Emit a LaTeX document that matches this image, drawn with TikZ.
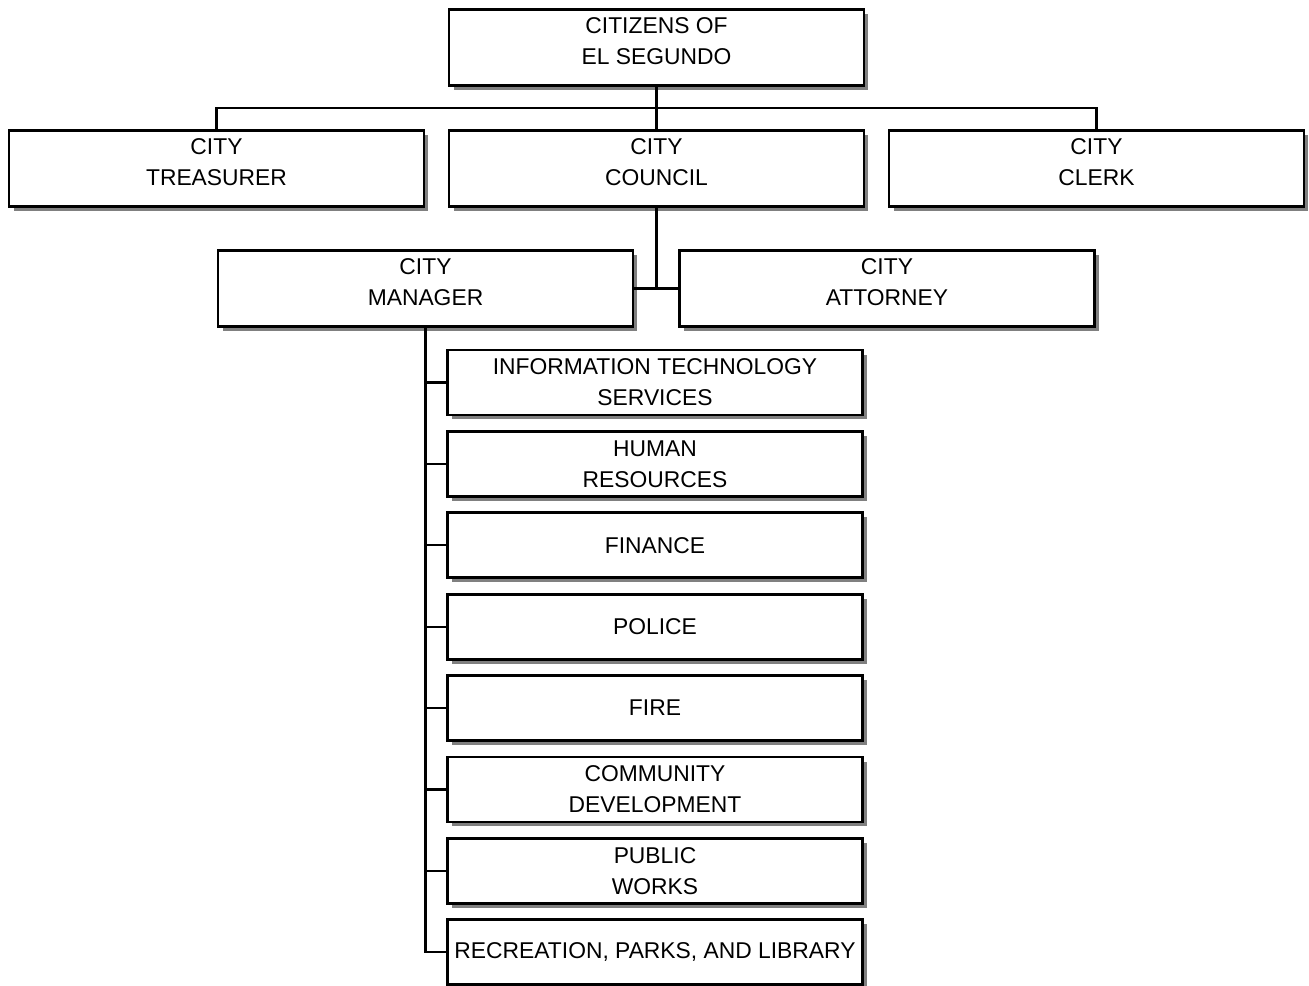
\documentclass[tikz,border=0pt]{standalone}
\usepackage{fontspec}
\setmainfont{Liberation Sans}
\usetikzlibrary{positioning,shadows,calc}

\tikzset{
  unit/.style={draw, fill=white, line width=1.5pt, align=center,
    font=\fontsize{13}{17.5}\selectfont,
    minimum width=8.3cm, minimum height=1.52cm, inner sep=2pt,
    drop shadow={shadow xshift=0.09cm, shadow yshift=-0.09cm, fill=black!50, opacity=1}},
  upper/.style={unit, text depth=7pt},
  dept/.style={unit, minimum height=1.3cm},
  link/.style={line width=1.3pt}
}

\begin{document}
\begin{tikzpicture}[x=0.02cm, y=-0.02cm]

\useasboundingbox (0,0) rectangle (1309,986);

% top row
\node[upper] (citizens) at (656.5,47.5) {CITIZENS OF\\EL SEGUNDO};
\node[upper] (treasurer) at (216.5,168.5) {CITY\\TREASURER};
\node[upper] (council) at (656.5,168.5) {CITY\\COUNCIL};
\node[upper] (clerk) at (1096.5,168.5) {CITY\\CLERK};

\node[upper] (manager) at (425.5,288.5) {CITY\\MANAGER};
\node[upper] (attorney) at (887,288.5) {CITY\\ATTORNEY};

% departments
\foreach \name/\txt [count=\i from 0] in {
  it/{INFORMATION TECHNOLOGY\\SERVICES},
  hr/{HUMAN\\RESOURCES},
  fin/FINANCE,
  pol/POLICE,
  fire/FIRE,
  cd/{COMMUNITY\\DEVELOPMENT},
  pw/{PUBLIC\\WORKS},
  rec/{RECREATION, PARKS, AND LIBRARY}} {
  \node[dept] (\name) at (655,382.5+81.4*\i) {\txt};
}

\coordinate (bus) at (656,108);
\draw[link] (citizens.south) -- (council.north);
\draw[link] (treasurer.north) |- (bus) -| (clerk.north);
\draw[link] (council.south) -- (council.south |- manager.east);
\draw[link] (manager.east) -- (attorney.west);

\draw[link] (manager.south) |- (rec.west);
\foreach \name in {it,hr,fin,pol,fire,cd,pw}
  \draw[link] (manager.south |- \name.west) -- (\name.west);

\end{tikzpicture}
\end{document}
